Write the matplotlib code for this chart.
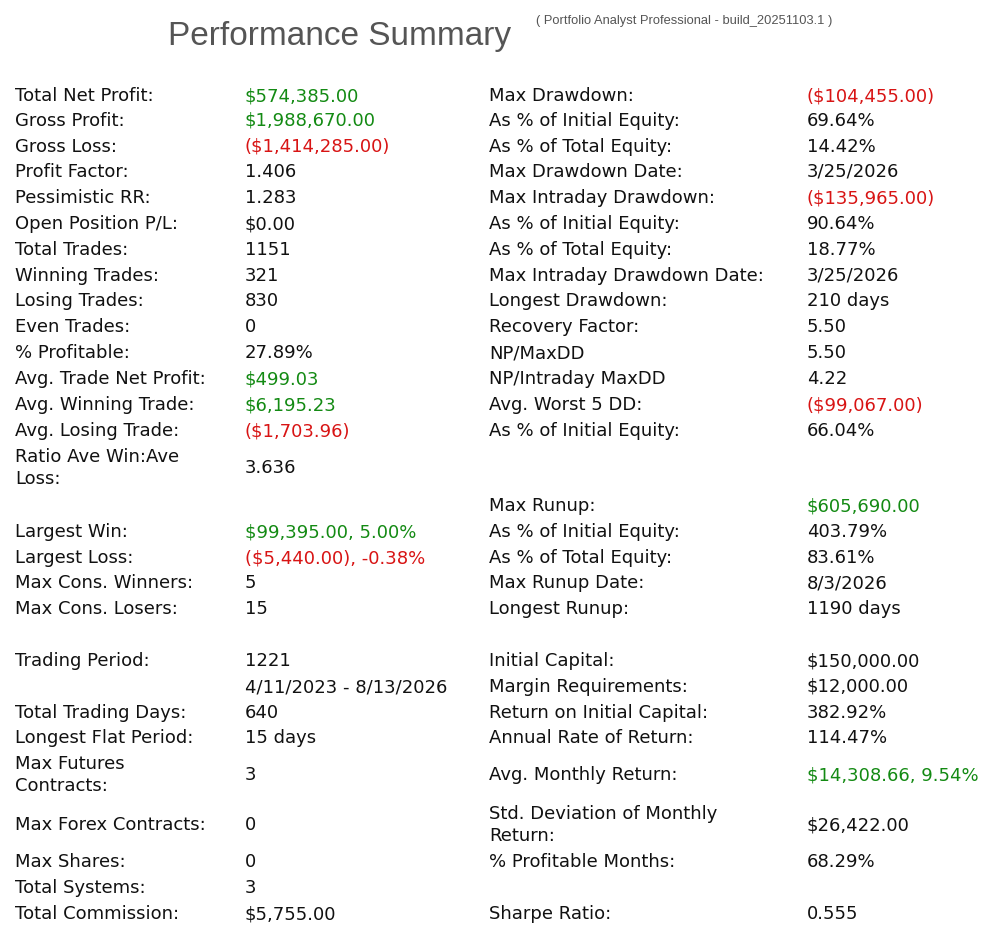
import matplotlib.pyplot as plt

# left block: label, value, colour key
left_labels = ["Total Net Profit:", "Gross Profit:", "Gross Loss:", "Profit Factor:",
               "Pessimistic RR:", "Open Position P/L:", "Total Trades:", "Winning Trades:",
               "Losing Trades:", "Even Trades:", "% Profitable:", "Avg. Trade Net Profit:",
               "Avg. Winning Trade:", "Avg. Losing Trade:", "Ratio Ave Win:Ave\nLoss:",
               "Largest Win:", "Largest Loss:", "Max Cons. Winners:", "Max Cons. Losers:",
               "Trading Period:", "", "Total Trading Days:", "Longest Flat Period:",
               "Max Futures\nContracts:", "Max Forex Contracts:", "Max Shares:",
               "Total Systems:", "Total Commission:"]
left_values = ["$574,385.00", "$1,988,670.00", "($1,414,285.00)", "1.406", "1.283", "$0.00",
               "1151", "321", "830", "0", "27.89%", "$499.03", "$6,195.23", "($1,703.96)",
               "3.636", "$99,395.00, 5.00%", "($5,440.00), -0.38%", "5", "15", "1221",
               "4/11/2023 - 8/13/2026", "640", "15 days", "3", "0", "0", "3", "$5,755.00"]
left_tone = ["g", "g", "r", "", "", "", "", "", "", "", "", "g", "g", "r",
             "", "g", "r", "", "", "", "", "", "", "", "", "", "", ""]
left_y = [95, 120, 146, 171, 197, 223, 249, 275, 300, 326, 352, 378, 404, 430,
          467, 531, 557, 582, 608, 660, 686, 712, 737, 774, 824, 861, 887, 913]

right_labels = ["Max Drawdown:", "As % of Initial Equity:", "As % of Total Equity:",
                "Max Drawdown Date:", "Max Intraday Drawdown:", "As % of Initial Equity:",
                "As % of Total Equity:", "Max Intraday Drawdown Date:", "Longest Drawdown:",
                "Recovery Factor:", "NP/MaxDD", "NP/Intraday MaxDD", "Avg. Worst 5 DD:",
                "As % of Initial Equity:", "Max Runup:", "As % of Initial Equity:",
                "As % of Total Equity:", "Max Runup Date:", "Longest Runup:",
                "Initial Capital:", "Margin Requirements:", "Return on Initial Capital:",
                "Annual Rate of Return:", "Avg. Monthly Return:",
                "Std. Deviation of Monthly\nReturn:", "% Profitable Months:", "Sharpe Ratio:"]
right_values = ["($104,455.00)", "69.64%", "14.42%", "3/25/2026", "($135,965.00)", "90.64%",
                "18.77%", "3/25/2026", "210 days", "5.50", "5.50", "4.22", "($99,067.00)",
                "66.04%", "$605,690.00", "403.79%", "83.61%", "8/3/2026", "1190 days",
                "$150,000.00", "$12,000.00", "382.92%", "114.47%", "$14,308.66, 9.54%",
                "$26,422.00", "68.29%", "0.555"]
right_tone = ["r", "", "", "", "r", "", "", "", "", "", "", "", "r", "",
              "g", "", "", "", "", "", "", "", "", "g", "", "", ""]
right_y = [95, 120, 146, 171, 197, 223, 249, 275, 300, 326, 352, 378, 404, 430,
           505, 531, 557, 582, 608, 660, 686, 712, 737, 774, 824, 861, 913]

colors = {"g": "#138a13", "r": "#d81414", "": "#111111"}
W, H = 1000, 938

fig = plt.figure(figsize=(W / 100, H / 100), dpi=100)
fig.patch.set_facecolor("white")


def put(x, y, s, c="#111111", size=13.0, **kw):
    fig.text(x / W, 1 - (y + 1) / H, s, color=c, fontsize=size, va="center", ha="left",
             linespacing=1.3, **kw)


fig.text(168 / W, 1 - 36 / H, "Performance Summary", fontsize=24, color="#555555",
         family="Liberation Sans", va="center", ha="left")
fig.text(536 / W, 1 - 21 / H, "( Portfolio Analyst Professional - build_20251103.1 )",
         fontsize=9.3, color="#555555", family="Liberation Sans", va="center", ha="left")

for lab, val, t, y in zip(left_labels, left_values, left_tone, left_y):
    put(15, y, lab, family="DejaVu Sans")
    put(245, y, val, colors[t], family="DejaVu Sans")

for lab, val, t, y in zip(right_labels, right_values, right_tone, right_y):
    put(489, y, lab, family="DejaVu Sans")
    put(807, y, val, colors[t], family="DejaVu Sans")

fig.savefig("out.png", dpi=100, facecolor="white")
